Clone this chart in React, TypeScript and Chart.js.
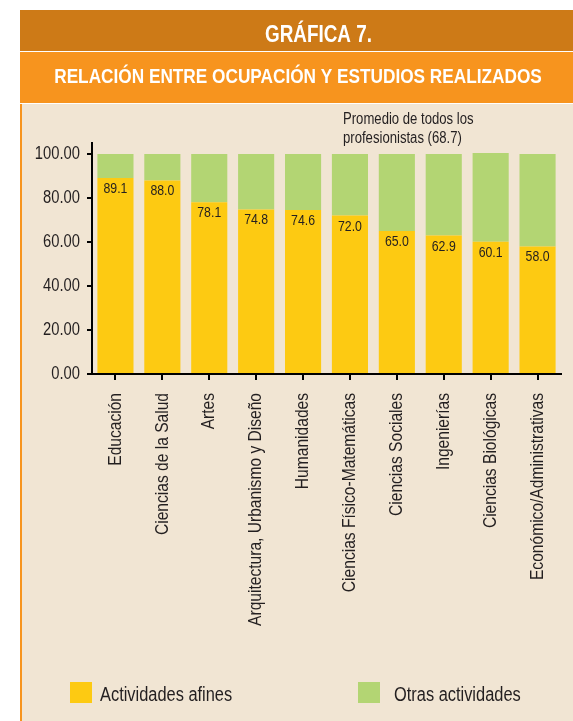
import React, { useEffect, useRef } from "react";
import { Chart, registerables } from "chart.js";

Chart.register(...registerables);

const categories = [
  "Educación",
  "Ciencias de la Salud",
  "Artes",
  "Arquitectura, Urbanismo y Diseño",
  "Humanidades",
  "Ciencias Físico-Matemáticas",
  "Ciencias Sociales",
  "Ingenierías",
  "Ciencias Biológicas",
  "Económico/Administrativas",
];
const afines = [89.1, 88.0, 78.1, 74.8, 74.6, 72.0, 65.0, 62.9, 60.1, 58.0];
const otras = [10.9, 12.0, 21.9, 25.2, 25.4, 28.0, 35.0, 37.1, 40.3, 42.0];
const seriesNames = ["Actividades afines", "Otras actividades"];
const seriesColors = ["#FDCA12", "#B3D573"];
const yTickValues = [0, 20, 40, 60, 80, 100];
const titleText = "GRÁFICA 7.";
const subtitleText = "RELACIÓN ENTRE OCUPACIÓN Y ESTUDIOS REALIZADOS";
const noteLines = ["Promedio de todos los", "profesionistas (68.7)"];

const BASE_FONT = '"Liberation Sans", Arial, sans-serif';
const NARROW = 0.82;
const TEXT = "#231f20";

function narrowText(
  ctx: CanvasRenderingContext2D,
  text: string,
  x: number,
  y: number,
  size: number,
  opts: { bold?: boolean; align?: CanvasTextAlign; baseline?: CanvasTextBaseline; rotate?: number; color?: string } = {}
) {
  ctx.save();
  ctx.translate(x, y);
  if (opts.rotate) ctx.rotate(opts.rotate);
  ctx.scale(NARROW, 1);
  ctx.font = `${opts.bold ? "bold " : ""}${size}px ${BASE_FONT}`;
  ctx.textAlign = opts.align || "left";
  ctx.textBaseline = opts.baseline || "alphabetic";
  ctx.fillStyle = opts.color || TEXT;
  ctx.fillText(text, 0, 0);
  ctx.restore();
}

const decorPlugin = {
  id: "decor",
  beforeDraw(chart: any) {
    const ctx = chart.ctx;
    ctx.save();
    ctx.fillStyle = "#ffffff";
    ctx.fillRect(0, 0, 573, 721);
    ctx.fillStyle = "#CD7A17";
    ctx.fillRect(20, 10, 553, 41);
    ctx.fillStyle = "#F7941E";
    ctx.fillRect(20, 52, 553, 51);
    ctx.fillStyle = "#F1E5D3";
    ctx.fillRect(20, 104, 553, 617);
    ctx.fillStyle = "#F7941E";
    ctx.fillRect(20, 104, 2, 617);
    ctx.restore();
  },
  afterDraw(chart: any) {
    const ctx = chart.ctx as CanvasRenderingContext2D;
    // headers
    narrowText(ctx, titleText, 265, 42, 23, { bold: true, color: "#ffffff" });
    narrowText(ctx, subtitleText, 298, 83, 21, { bold: true, color: "#ffffff", align: "center" });

    // note
    narrowText(ctx, noteLines[0], 343, 124, 16);
    narrowText(ctx, noteLines[1], 343, 143, 16);

    // y tick labels
    const ys = chart.scales.y;
    ys.ticks.forEach((t: any) => {
      const py = ys.getPixelForValue(t.value);
      narrowText(ctx, Number(t.value).toFixed(2), ys.right - 12, py, 18, { align: "right", baseline: "middle" });
    });

    // x tick labels (rotated)
    const xs = chart.scales.x;
    xs.ticks.forEach((t: any, i: number) => {
      const px = xs.getPixelForTick(i);
      const label = chart.data.labels[i];
      narrowText(ctx, label, px, xs.top + 19, 19, { align: "right", baseline: "middle", rotate: -Math.PI / 2 });
    });

    // bar value labels
    const meta = chart.getDatasetMeta(0);
    meta.data.forEach((bar: any, i: number) => {
      narrowText(ctx, afines[i].toFixed(1), bar.x, bar.y + 15, 15, { align: "center" });
    });

    // legend
    const ds = chart.data.datasets;
    const boxX = [70, 358];
    const textX = [100, 394];
    ds.forEach((d: any, i: number) => {
      ctx.save();
      ctx.fillStyle = d.backgroundColor;
      ctx.fillRect(boxX[i], 682, 22, 21);
      ctx.restore();
      narrowText(ctx, d.label, textX[i], 701, 20);
    });
  },
};

export default function App() {
  const ref = useRef<HTMLCanvasElement | null>(null);
  useEffect(() => {
    if (!ref.current) return;
    const chart = new Chart(ref.current, {
      type: "bar",
      data: {
        labels: categories,
        datasets: [
          {
            label: seriesNames[0],
            data: afines,
            backgroundColor: seriesColors[0],
            barPercentage: 0.77,
            categoryPercentage: 1,
          },
          {
            label: seriesNames[1],
            data: otras,
            backgroundColor: seriesColors[1],
            barPercentage: 0.77,
            categoryPercentage: 1,
          },
        ],
      },
      options: {
        responsive: false,
        animation: false,
        devicePixelRatio: 1,
        layout: { padding: { top: 143, right: 12, left: 0, bottom: 0 } },
        plugins: {
          legend: { display: false },
          tooltip: { enabled: false },
          title: { display: false },
        },
        scales: {
          x: {
            stacked: true,
            offset: true,
            grid: {
              display: true,
              drawOnChartArea: false,
              drawTicks: true,
              tickLength: 6,
              offset: false,
              color: "#000",
              lineWidth: 2,
            },
            border: { display: true, color: "#000", width: 2 },
            ticks: {
              autoSkip: false,
              maxRotation: 90,
              minRotation: 90,
              padding: 13,
              color: "rgba(0,0,0,0)",
              font: { family: BASE_FONT, size: 16 },
            },
            afterFit(scale: any) {
              scale.height = 721 - 374;
            },
          },
          y: {
            stacked: true,
            min: 0,
            max: 105,
            grid: {
              display: true,
              drawOnChartArea: false,
              drawTicks: true,
              tickLength: 5,
              color: "#000",
              lineWidth: 2,
            },
            border: { display: true, color: "#000", width: 2 },
            afterBuildTicks(scale: any) {
              scale.ticks = yTickValues.map((v) => ({ value: v }));
            },
            ticks: {
              padding: 7,
              color: "rgba(0,0,0,0)",
              font: { family: BASE_FONT, size: 15 },
              callback: (v: any) => Number(v).toFixed(2),
            },
            afterFit(scale: any) {
              scale.width = 92;
            },
          },
        },
      },
      plugins: [decorPlugin],
    });
    return () => chart.destroy();
  }, []);
  return (
    <canvas
      ref={ref}
      width={573}
      height={721}
      style={{ position: "absolute", left: 0, top: 0, width: 573, height: 721, display: "block" }}
    />
  );
}
